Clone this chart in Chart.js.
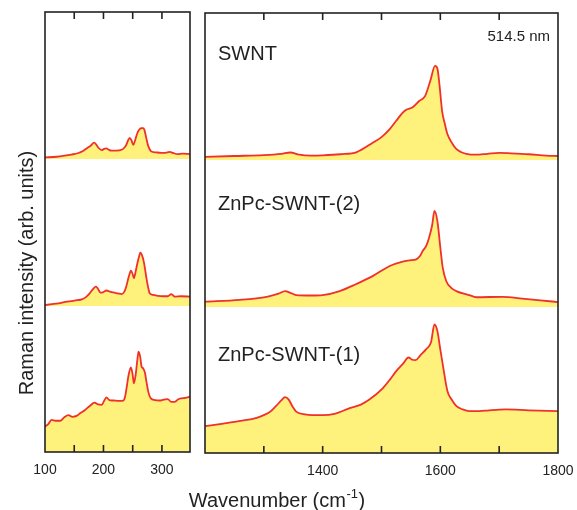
<!DOCTYPE html>
<html><head><meta charset="utf-8">
<script src="https://cdn.jsdelivr.net/npm/chart.js@4.4.1/dist/chart.umd.min.js"></script>
<style>
html,body{margin:0;padding:0;background:#fff;}
#wrap{position:relative;width:577px;height:510px;overflow:hidden;}
canvas{position:absolute;left:0;top:0;}
</style></head><body>
<div id="wrap"><canvas id="cL" width="577" height="510"></canvas><canvas id="cR" width="577" height="510"></canvas></div>
<script>
// ---- data ----
const seriesNames = ['SWNT', 'ZnPc-SWNT-(2)', 'ZnPc-SWNT-(1)'];
const offsets = [66.6, 33.2, 0];
const laserLabel = '514.5 nm';

// low-frequency (RBM) region
const rbmWnSWNT = [100,120,134,145,156,165,171,178,184,188,191,197,201,205,209,214,222,231,236,239,242,245,248,251,254,256,259,262,265,268,270,272,274,276,279,282,290,299,306,313,320,327,335,348];
const rbmIntSWNT = [0.35,0.5,0.75,1.0,1.3,1.8,2.4,3.0,3.7,3.2,2.6,2.0,2.3,2.4,2.1,1.9,1.9,2.1,2.6,3.2,4.2,4.8,4.2,3.2,4.2,5.1,6.2,6.8,7.0,7.0,6.6,5.5,4.3,3.2,2.2,1.7,1.5,1.4,1.4,1.6,1.3,1.1,1.2,1.1];

const rbmWnZn2 = [100,112,123,135,145,155,163,170,176,182,187,191,195,199,205,212,219,226,231,236,239,243,247,250,252,255,258,261,263,266,269,271,273,276,279,285,293,302,310,316,322,333,348];
const rbmIntZn2 = [0.2,0.4,0.6,0.9,1.1,1.3,1.5,2.0,2.8,3.8,4.4,3.8,3.0,3.1,3.5,3.2,3.0,2.8,2.7,3.3,4.4,6.5,8.0,7.2,6.3,7.8,9.7,11.3,12.1,11.5,10.0,8.5,6.7,4.5,2.9,2.5,2.3,2.2,2.2,2.7,2.1,2.2,2.1];

const rbmWnZn1 = [100,106,111,118,126,133,140,147,154,161,168,176,185,191,197,201,205,210,217,226,234,237,239,243,247,250,252,255,258,260,263,265,268,271,273,277,281,288,296,303,310,316,322,328,333,340,348];
const rbmIntZn1 = [5.8,6.4,7.3,7.1,7.1,7.9,8.4,8.0,8.2,8.9,9.5,10.4,11.2,10.8,10.7,11.6,12.4,11.8,11.7,11.6,11.7,12.6,14.1,17.5,19.2,17.5,15.6,17.5,21.0,22.8,21.5,19.5,19.0,18.0,16.4,13.5,12.2,11.8,11.7,11.9,12.0,11.4,11.4,12.0,12.2,12.3,12.6];

// high-frequency (D / G band) region
const gWnSWNT = [1200,1250,1300,1330,1345,1360,1380,1400,1430,1458,1485,1500,1514,1525,1535,1542,1553,1564,1574,1583,1591,1595,1599,1603,1608,1612,1620,1627,1635,1644,1660,1680,1700,1720,1750,1780,1800];
const gIntSWNT = [0.7,0.9,1.1,1.4,1.7,1.2,1.0,1.05,1.3,1.8,3.9,5.2,7.0,8.9,10.6,11.4,12.0,13.4,14.5,18.0,21.4,20.8,16.5,11.1,8.0,5.9,3.8,2.5,1.8,1.4,1.2,1.4,1.6,1.5,1.3,1.0,0.9];

const gWnZn2 = [1200,1259,1305,1325,1336,1345,1355,1380,1400,1429,1457,1485,1514,1536,1548,1559,1565,1570,1576,1581,1586,1590,1595,1600,1604,1610,1618,1627,1649,1661,1706,1739,1770,1800];
const gIntZn2 = [1.2,1.6,2.3,3.0,3.6,3.2,2.7,2.6,2.7,3.6,5.2,7.0,9.3,10.3,10.6,10.8,11.5,12.7,13.9,15.8,18.5,21.8,19.5,13.5,9.0,5.9,4.4,3.6,2.7,2.2,2.3,1.9,1.5,1.1];

const gWnZn1 = [1200,1231,1260,1288,1310,1321,1330,1336,1342,1349,1355,1370,1400,1420,1446,1465,1480,1502,1515,1525,1536,1546,1552,1558,1566,1576,1584,1590,1595,1600,1604,1612,1620,1627,1638,1649,1666,1683,1711,1750,1800];
const gIntZn1 = [6.1,6.7,7.3,8.0,9.3,10.7,12.0,12.7,12.2,10.5,9.4,8.8,8.6,8.9,10.2,11.0,12.2,14.7,16.8,18.6,20.2,21.7,21.2,21.1,22.2,23.6,25.1,29.2,27.7,23.5,20.2,14.1,12.0,10.7,9.9,9.5,9.5,9.7,9.9,9.7,9.5];

const lowRange = [100, 348];
const highRange = [1200, 1800];
const lowTicks = [100, 150, 200, 250, 300];
const highTicks = [1200, 1300, 1400, 1500, 1600, 1700, 1800];
const lowTickLabels = [100, 200, 300];
const highTickLabels = [1400, 1600, 1800];
const xTitle = ['Wavenumber (cm', '-1', ')'];
const yTitle = 'Raman intensity (arb. units)';

// ---- styling ----
const FONT = '"Liberation Sans", Arial, Helvetica, sans-serif';
const LINE = '#f0302a';
const FILL = '#fff27c';
const INK = '#222';

function makeDatasets(list) {
  return list.map(([wn, vals], i) => ({
    label: seriesNames[i],
    data: wn.map((w, k) => ({ x: w, y: offsets[i] + vals[k] })),
    borderColor: LINE,
    backgroundColor: FILL,
    borderWidth: 1.8,
    pointRadius: 0,
    cubicInterpolationMode: 'monotone',
    fill: { value: offsets[i] }
  }));
}

function framePlugin(extra) {
  return {
    id: 'frame',
    afterDraw(chart) {
      const { ctx, chartArea: a } = chart;
      const xs = chart.scales.x;
      ctx.save();
      ctx.strokeStyle = INK;
      ctx.lineWidth = 1.6;
      ctx.strokeRect(a.left, a.top, a.right - a.left, a.bottom - a.top);
      ctx.beginPath();
      xs.ticks.forEach(t => {
        if (t.value <= xs.min || t.value >= xs.max) return;
        const px = xs.getPixelForValue(t.value);
        ctx.moveTo(px, a.bottom); ctx.lineTo(px, a.bottom - 7);
        ctx.moveTo(px, a.top); ctx.lineTo(px, a.top + 7);
      });
      ctx.stroke();
      if (extra) extra(ctx, chart);
      ctx.restore();
    }
  };
}

function makeOptions(range, tickVals, labels, pad) {
  return {
    responsive: false,
    animation: false,
    devicePixelRatio: 1,
    layout: { padding: pad },
    plugins: { legend: { display: false }, tooltip: { enabled: false } },
    scales: {
      x: {
        type: 'linear', min: range[0], max: range[1],
        grid: { display: false, drawTicks: false },
        border: { display: false },
        afterBuildTicks(s) { s.ticks = tickVals.map(v => ({ value: v })); },
        ticks: {
          autoSkip: false, maxRotation: 0, padding: 10,
          color: INK, font: { size: 14, family: FONT },
          callback: v => labels.some(l => Math.abs(l - v) < 1e-6) ? String(Math.round(v)) : ''
        },
        afterFit(s) { s.height = 30; s.paddingLeft = 0; s.paddingRight = 0; }
      },
      y: { display: false, min: 0, max: 100 }
    }
  };
}

// left chart (RBM region) + axis titles
new Chart(document.getElementById('cL'), {
  type: 'line',
  data: { datasets: makeDatasets([[rbmWnSWNT, rbmIntSWNT], [rbmWnZn2, rbmIntZn2], [rbmWnZn1, rbmIntZn1]]) },
  options: makeOptions(lowRange, lowTicks, lowTickLabels, { left: 45, right: 387, top: 12, bottom: 28 }),
  plugins: [framePlugin((ctx) => {
    ctx.fillStyle = INK;
    // y title
    ctx.save();
    ctx.font = '20px ' + FONT;
    ctx.translate(33, 273);
    ctx.rotate(-Math.PI / 2);
    ctx.textAlign = 'center';
    ctx.textBaseline = 'alphabetic';
    ctx.fillText(yTitle, 0, 0);
    ctx.restore();
    // x title with superscript
    ctx.font = '20px ' + FONT;
    const w1 = ctx.measureText(xTitle[0]).width;
    ctx.font = '13px ' + FONT;
    const w2 = ctx.measureText(xTitle[1]).width;
    ctx.font = '20px ' + FONT;
    const w3 = ctx.measureText(xTitle[2]).width;
    let x0 = 277 - (w1 + w2 + w3 + 1) / 2;
    ctx.textAlign = 'left';
    ctx.textBaseline = 'alphabetic';
    ctx.fillText(xTitle[0], x0, 507);
    ctx.font = '13px ' + FONT;
    ctx.fillText(xTitle[1], x0 + w1 + 0.5, 498);
    ctx.font = '20px ' + FONT;
    ctx.fillText(xTitle[2], x0 + w1 + w2 + 1, 507);
  })]
});

// right chart (D/G band region) + sample labels
new Chart(document.getElementById('cR'), {
  type: 'line',
  data: { datasets: makeDatasets([[gWnSWNT, gIntSWNT], [gWnZn2, gIntZn2], [gWnZn1, gIntZn1]]) },
  options: makeOptions(highRange, highTicks, highTickLabels, { left: 205, right: 19, top: 13, bottom: 27 }),
  plugins: [framePlugin((ctx, chart) => {
    const a = chart.chartArea;
    ctx.fillStyle = INK;
    ctx.textBaseline = 'alphabetic';
    ctx.textAlign = 'left';
    ctx.font = '20px ' + FONT;
    const labelY = [60, 210, 361];
    seriesNames.forEach((n, i) => ctx.fillText(n, a.left + 13, labelY[i]));
    ctx.font = '15px ' + FONT;
    ctx.textAlign = 'right';
    ctx.fillText(laserLabel, a.right - 8, 41);
  })]
});
</script>
</body></html>
